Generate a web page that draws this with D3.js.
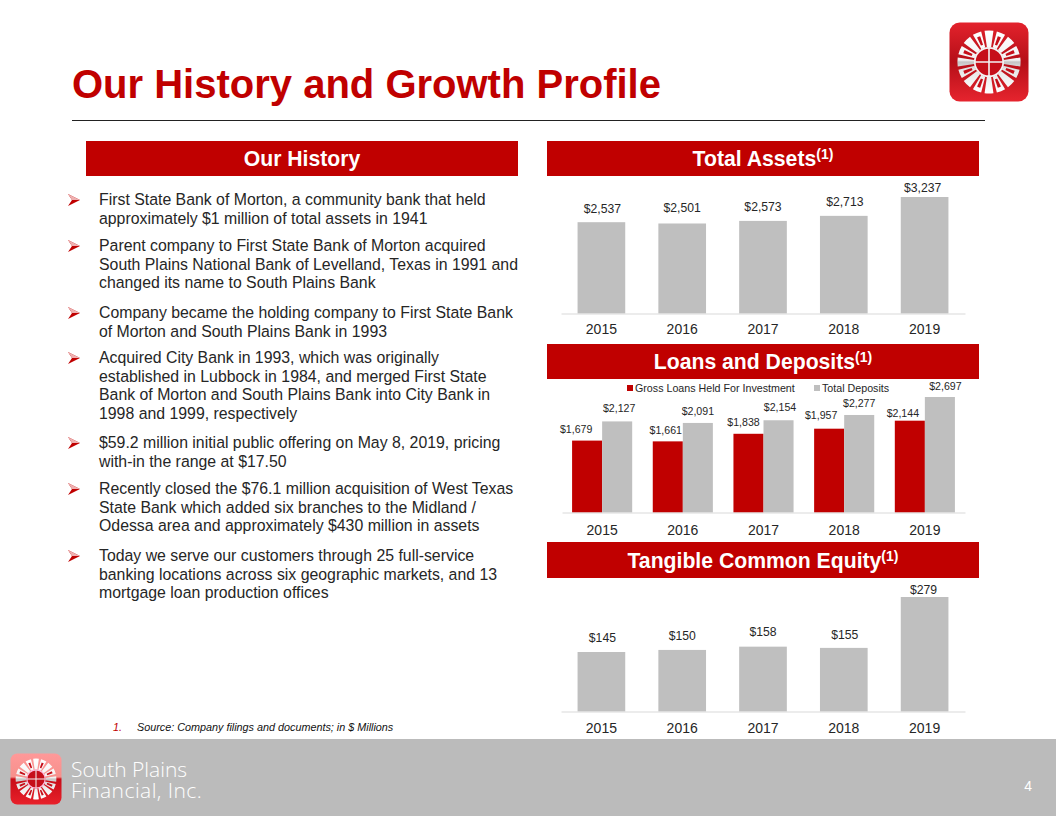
<!DOCTYPE html>
<html><head><meta charset="utf-8">
<script src="https://cdn.jsdelivr.net/npm/d3@7"></script>
<style>
html,body{margin:0;padding:0;background:#fff;width:1056px;height:816px;overflow:hidden}
text{font-family:"Liberation Sans",Arial,sans-serif}
text.brand{font-family:"Open Sans","Noto Sans",sans-serif;font-weight:300}
</style></head><body>
<svg id="c" width="1056" height="816"></svg>
<script>
const years = ["2015","2016","2017","2018","2019"];
const totalAssets = [2537,2501,2573,2713,3237];
const grossLoans = [1679,1661,1838,1957,2144];
const totalDeposits = [2127,2091,2154,2277,2697];
const tangibleEquity = [145,150,158,155,279];
const seriesNames = ["Gross Loans Held For Investment","Total Deposits"];
const historyBullets = [
 ["First State Bank of Morton, a community bank that held","approximately $1 million of total assets in 1941"],
 ["Parent company to First State Bank of Morton acquired","South Plains National Bank of Levelland, Texas in 1991 and","changed its name to South Plains Bank"],
 ["Company became the holding company to First State Bank","of Morton and South Plains Bank in 1993"],
 ["Acquired City Bank in 1993, which was originally","established in Lubbock in 1984, and merged First State","Bank of Morton and South Plains Bank into City Bank in","1998 and 1999, respectively"],
 ["$59.2 million initial public offering on May 8, 2019, pricing","with-in the range at $17.50"],
 ["Recently closed the $76.1 million acquisition of West Texas","State Bank which added six branches to the Midland /","Odessa area and approximately $430 million in assets"],
 ["Today we serve our customers through 25 full-service","banking locations across six geographic markets, and 13","mortgage loan production offices"]
];
const bulletCenters = [199,245,312,357,442,488,555];
// Hand placement of value labels, as in the reference (px from the bar top / bar centre)
const assetsGap=[9,11,10,10,5], assetsNudge=[1,0,0,1,-2];
const equityGap=[10,10,11,9,3], equityNudge=[1,0,0,1,-1];
const loansGap=[8,7,8,10,4], loansNudge=[-11,-2,-5,-8,-7];
const depositsGap=[9,8,9,8,7], depositsNudge=[2,0,1.5,0,5.5];

const RED="#c00000", GREY="#bfbfbf", INK="#262626";
const svg=d3.select("#c");
const fmt=d=>"$"+d3.format(",")(d);

// Title
svg.append("text").attr("x",72).attr("y",98).attr("font-size",40).attr("font-weight","bold").attr("fill",RED).text("Our History and Growth Profile");
svg.append("line").attr("x1",72).attr("x2",985).attr("y1",120.5).attr("y2",120.5).attr("stroke","#222").attr("stroke-width",1);

// Section headers
function header(x,y,w,h,label,sup){
  svg.append("rect").attr("x",x).attr("y",y).attr("width",w).attr("height",h).attr("fill",RED);
  const t=svg.append("text").attr("x",x+w/2).attr("y",y+h/2+7.5).attr("text-anchor","middle").attr("font-size",21.2).attr("font-weight","bold").attr("fill","#fff").text(label);
  if(sup) t.append("tspan").attr("font-size",14).attr("dy",-7).text("(1)");
}
header(86,141,432,35,"Our History");
header(547,141,432,35,"Total Assets",true);
header(547,344,432,35,"Loans and Deposits",true);
header(547,542,432,36,"Tangible Common Equity",true);

// Bullets
historyBullets.forEach((lines,i)=>{
  const c=bulletCenters[i];
  const g=svg.append("g").attr("transform",`translate(68,${c+1})`);
  g.append("path").attr("d","M0,-6 L12,0 L0,6 L4,0Z").attr("fill",RED);
  g.append("path").attr("d","M0,-6 L12,0 L4,0Z").attr("fill","#eeb0b0");
  lines.forEach((l,j)=>svg.append("text").attr("x",99).attr("y",c+5.7+j*18.8).attr("font-size",15.85).attr("fill",INK).text(l));
});

// Footnote
svg.append("text").attr("x",113).attr("y",731).attr("font-size",10.8).attr("font-style","italic").attr("fill",RED).text("1.");
svg.append("text").attr("x",137).attr("y",731).attr("font-size",10.8).attr("font-style","italic").attr("fill","#111").text("Source: Company filings and documents; in $ Millions");

function axis(x,base,pad){
  const g=svg.append("g").attr("transform",`translate(0,${base})`).call(d3.axisBottom(x).tickSize(0).tickPadding(pad));
  g.select(".domain").attr("stroke","#d9d9d9").attr("stroke-width",1);
  g.selectAll("text").attr("font-size",14).attr("fill",INK).style("font-family",'"Liberation Sans",Arial,sans-serif');
}
// Single-series charts
function single(values,base,top,gaps,nudges,pad){
  const x=d3.scaleBand().domain(years).range([561,965]).paddingInner(0.41).paddingOuter(0.205);
  const y=d3.scaleLinear().domain([0,d3.max(values)]).range([base,top]);
  svg.selectAll(null).data(values).join("rect").attr("x",(d,i)=>x(years[i])).attr("width",x.bandwidth()).attr("y",d=>y(d)).attr("height",d=>base-y(d)).attr("fill",GREY);
  svg.selectAll(null).data(values).join("text").attr("x",(d,i)=>x(years[i])+x.bandwidth()/2+nudges[i]).attr("y",(d,i)=>y(d)-gaps[i]).attr("text-anchor","middle").attr("font-size",12.2).attr("fill",INK).text(fmt);
  axis(x,base,pad);
}
single(totalAssets,313.5,197,assetsGap,assetsNudge,11);
single(tangibleEquity,711.5,597,equityGap,equityNudge,12);

// Grouped chart
(function(){
  const base=512.5, top=397;
  const x=d3.scaleBand().domain(years).range([562,965]).paddingInner(0.255).paddingOuter(0.125);
  const y=d3.scaleLinear().domain([0,d3.max(totalDeposits)]).range([base,top]);
  const inner=d3.scaleBand().domain([0,1]).range([0,x.bandwidth()]);
  [[grossLoans,loansGap,loansNudge],[totalDeposits,depositsGap,depositsNudge]].forEach(([vals,gaps,nudges],s)=>{
    svg.selectAll(null).data(vals).join("rect").attr("x",(d,i)=>x(years[i])+inner(s)).attr("width",inner.bandwidth()).attr("y",d=>y(d)).attr("height",d=>base-y(d)).attr("fill",s?GREY:RED);
    svg.selectAll(null).data(vals).join("text").attr("x",(d,i)=>x(years[i])+inner(s)+inner.bandwidth()/2+nudges[i]).attr("y",(d,i)=>y(d)-gaps[i]).attr("text-anchor","middle").attr("font-size",10.6).attr("fill",INK).text(fmt);
  });
  axis(x,base,13);
  [[627,seriesNames[0],RED],[814,seriesNames[1],GREY]].forEach(([lx,t,c])=>{
    svg.append("rect").attr("x",lx).attr("y",385).attr("width",6).attr("height",6).attr("fill",c);
    svg.append("text").attr("x",lx+8).attr("y",392).attr("font-size",10.7).attr("fill",INK).text(t);
  });
})();

// Windmill logo
function logo(cx,cy,size,light){
  const g=svg.append("g").attr("transform",`translate(${cx},${cy})`);
  const id="lg"+cx, wid="wh"+cx;
  const defs=svg.append("defs");
  const grad=defs.append("linearGradient").attr("id",id).attr("x1",0).attr("x2",0).attr("y1",0).attr("y2",1);
  const stops=light?[[0,"#f99"],[.46,"#f6908c"],[.5,"#c80d18"],[1,"#e8202a"]]:[[0,"#e3222c"],[.5,"#b50f18"],[1,"#e6242e"]];
  stops.forEach(([o,c])=>grad.append("stop").attr("offset",o).attr("stop-color",c));
  const wg=defs.append("linearGradient").attr("id",wid).attr("gradientUnits","userSpaceOnUse").attr("x1",0).attr("x2",0).attr("y1",-size*.4).attr("y2",size*.4);
  [[0,"#fff"],[.47,"#f2f2f2"],[.5,"#c4c4c4"],[.62,"#e6e6e6"],[1,"#fff"]].forEach(([o,c])=>wg.append("stop").attr("offset",o).attr("stop-color",c));
  g.append("rect").attr("x",-size/2).attr("y",-size/2).attr("width",size).attr("height",size).attr("rx",size*.13).attr("fill",`url(#${id})`);
  const R=size*.4, n=16, arc=d3.arc();
  d3.range(n).forEach(i=>{
    const step=2*Math.PI/n, a=i*step-step*.36;
    g.append("path").attr("fill",`url(#${wid})`).attr("d",arc({innerRadius:R*.47,outerRadius:R,startAngle:a,endAngle:a+step*.72}));
    if(i%2===1) g.append("path").attr("fill","#c60f1a").attr("d",arc({innerRadius:R*.58,outerRadius:R*.86,startAngle:a+step*.2,endAngle:a+step*.52}));
  });
  g.append("circle").attr("r",R*.45).attr("fill","#c60f1a").attr("stroke",light?"#fbd":"#f4f4f4").attr("stroke-width",size*.022);
  g.append("path").attr("d",`M${-R*.45},0H${R*.45}M0,${-R*.45}V${R*.45}`).attr("stroke","#f4f4f4").attr("stroke-width",size*.02);
}
// Footer
svg.append("rect").attr("x",0).attr("y",739).attr("width",1056).attr("height",77).attr("fill","#bbbbbb");
logo(989,62,79,false);
logo(36,779,51,true);
const brand=svg.append("text").attr("class","brand").attr("font-size",21).attr("fill","#fff");
brand.append("tspan").attr("x",71).attr("y",777).text("South Plains");
brand.append("tspan").attr("x",71).attr("y",798).attr("letter-spacing",0.45).text("Financial, Inc.");
svg.append("text").attr("x",1032).attr("y",791).attr("text-anchor","end").attr("font-size",14).attr("fill","#fff").text("4");
</script>
</body></html>
